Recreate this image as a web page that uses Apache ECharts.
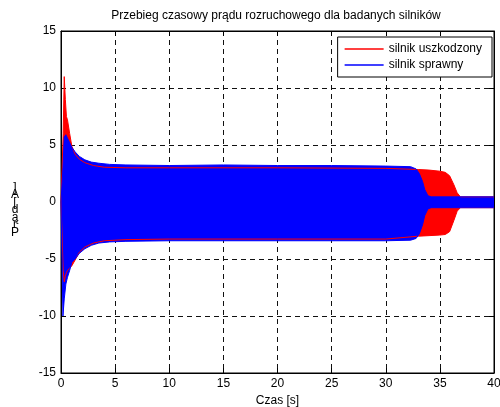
<!DOCTYPE html>
<html><head><meta charset="utf-8">
<script src="https://cdn.jsdelivr.net/npm/echarts@6/dist/echarts.min.js"></script>
<style>html,body{margin:0;padding:0;background:#fff}#c{width:500px;height:407px}</style>
</head><body><div id="c"></div>
<script>
// Envelope of the starting current (upper / lower peaks)
const redT     = [0, 0.1, 0.2, 0.3, 0.4, 0.5, 0.6, 0.8, 1.0, 1.3, 1.7, 2.2, 3, 4, 6, 10, 20, 30, 33, 34, 35, 35.5, 35.9, 36.3, 36.6, 36.9, 40];
const redUpper = [0, 0, 6, 11, 9, 7.5, 7.2, 6.0, 4.9, 4.2, 3.75, 3.45, 3.2, 3.05, 3.0, 3.0, 3.0, 2.95, 2.85, 2.8, 2.7, 2.6, 2.3, 1.5, 0.8, 0.45, 0.45];
const redLower = [0, 0, -6, -7, -6.5, -6.2, -6.0, -5.8, -5.6, -5.1, -4.4, -3.95, -3.6, -3.4, -3.3, -3.25, -3.25, -3.25, -3.0, -2.95, -2.9, -2.85, -2.6, -1.6, -0.8, -0.5, -0.5];

const blueT     = [0, 0.1, 0.18, 0.3, 0.45, 0.6, 0.8, 1.0, 1.3, 1.7, 2.2, 2.8, 3.5, 4.5, 6, 10, 15, 20, 25, 30, 32.3, 32.8, 33.1, 33.4, 33.6, 33.9, 34.2, 40];
const blueUpper = [0, 0, 3.0, 5.7, 5.9, 5.6, 5.2, 4.8, 4.4, 4.0, 3.7, 3.5, 3.4, 3.3, 3.25, 3.2, 3.25, 3.2, 3.2, 3.15, 3.1, 2.9, 2.5, 1.8, 1.1, 0.55, 0.45, 0.45];
const blueLower = [0, 0, -10, -8.5, -7.2, -6.6, -6.0, -5.3, -5.0, -4.5, -4.1, -3.8, -3.6, -3.5, -3.45, -3.4, -3.4, -3.4, -3.4, -3.4, -3.35, -3.2, -2.8, -2.0, -1.2, -0.6, -0.5, -0.5];

const names = ['silnik uszkodzony', 'silnik sprawny'];
const xTicks = { min: 0, max: 40, interval: 5 };
const yTicks = { min: -15, max: 15, interval: 5 };

const FONT = 'Liberation Sans, Arial, sans-serif';
function band(t, lo, hi, name, color) {
  const common = { type: 'line', symbol: 'none', areaStyle: { color: color, opacity: 1, origin: 0 },
    lineStyle: { color: color, width: 1 }, itemStyle: { color: color } };
  return [
    Object.assign({ name: name + ' ', data: t.map((x, i) => [x, lo[i]]) }, common),
    Object.assign({ name: name, data: t.map((x, i) => [x, hi[i]]) }, common)
  ];
}
const chart = echarts.init(document.getElementById('c'), null, { renderer: 'canvas' });
const axisCommon = {
  axisLine: { show: true, onZero: false, lineStyle: { color: '#000', width: 1 } },
  axisTick: { show: true, inside: true, length: 5, lineStyle: { color: '#000' } },
  axisLabel: { color: '#000', fontSize: 12, fontFamily: FONT, margin: 5 },
};
chart.setOption({
  animation: false,
  backgroundColor: '#fff',
  textStyle: { fontFamily: FONT },
  grid: { left: 61, right: 6, top: 31, bottom: 34, show: true, borderColor: '#000', borderWidth: 1,
    outerBoundsMode: 'none', containLabel: false },
  xAxis: [
    Object.assign({ type: 'value', position: 'bottom', name: 'Czas [s]', nameLocation: 'middle', nameGap: 20,
      nameTextStyle: { color: '#000', fontSize: 12, fontFamily: FONT },
      splitLine: { show: true, lineStyle: { color: '#111', type: [5, 4], width: 1 } } }, xTicks, axisCommon),
    Object.assign({ type: 'value', position: 'top', splitLine: { show: false } }, xTicks, axisCommon, { axisLabel: { show: false } })
  ],
  yAxis: [
    Object.assign({ type: 'value', position: 'left',
      splitLine: { show: true, lineStyle: { color: '#111', type: [5, 4], width: 1 } } }, yTicks, axisCommon),
    Object.assign({ type: 'value', position: 'right', splitLine: { show: false } }, yTicks, axisCommon, { axisLabel: { show: false } })
  ],
  legend: {
    data: names, orient: 'vertical', right: 8, top: 37, icon: 'rect',
    itemWidth: 39, itemHeight: 1.5, itemGap: 4, padding: [6, 10, 6, 7],
    backgroundColor: '#fff', borderColor: '#000', borderWidth: 1, borderRadius: 0,
    textStyle: { color: '#000', fontSize: 12, fontFamily: FONT }
  },
  graphic: [
    { type: 'text', x: 276, y: 16, style: { text: 'Przebieg czasowy prądu rozruchowego dla badanych silników',
      textAlign: 'center', textVerticalAlign: 'middle', font: '12px ' + FONT, fill: '#000' } },
    { type: 'text', x: 15, y: 210, style: { text: ']\nA\n[\nd\ną\nr\nP', lineHeight: 7.5,
      textAlign: 'center', textVerticalAlign: 'middle', font: '12px ' + FONT, fill: '#000' } }
  ],
  series: [].concat(
    band(redT, redLower, redUpper, names[0], '#ff0000'),
    band(blueT, blueLower, blueUpper, names[1], '#0000ff')
  )
});
</script></body></html>
